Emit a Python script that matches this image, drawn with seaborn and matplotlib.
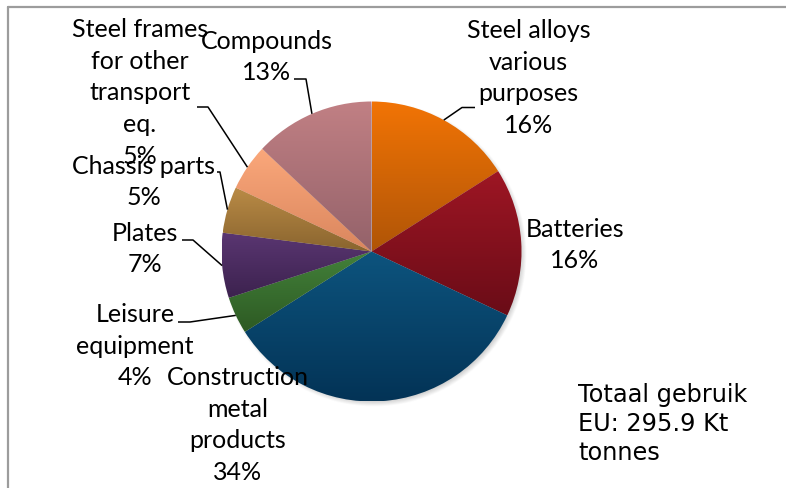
import numpy as np
import matplotlib
matplotlib.use("Agg")
import matplotlib.pyplot as plt
from matplotlib.colors import to_rgb
from matplotlib.lines import Line2D
import seaborn as sns

# Uses of steel in the EU, share of total consumption (%)
categories = [
    "Steel alloys\nvarious\npurposes",
    "Batteries",
    "Construction\nmetal\nproducts",
    "Leisure\nequipment",
    "Plates",
    "Chassis parts",
    "Steel frames\nfor other\ntransport\neq.",
    "Compounds",
]
shares = [16, 16, 34, 4, 7, 5, 5, 13]

# light (top) and dark (bottom) shade of each slice's gradient
top_colors = ["#F27405", "#9E1624", "#0D547E", "#43813A", "#5A3672",
              "#BA8B46", "#FBA87B", "#C18084"]
bottom_colors = ["#B05507", "#6A0C17", "#033356", "#2D5A23", "#3C224E",
                 "#8A652F", "#DA865E", "#94626A"]

total_note = "Totaal gebruik\nEU: 295.9 Kt\ntonnes"

W, H = 786, 488

sns.set_theme(style="white")
plt.rcParams["font.family"] = ["Lato", "DejaVu Sans"]

fig = plt.figure(figsize=(W / 100, H / 100), dpi=100)
fig.patch.set_facecolor("white")
ax = fig.add_axes([0, 0, 1, 1])


def Y(y):
    """Convert a top-down pixel row into the axes' y coordinate."""
    return H - y


cx, cy, R = 371.5, Y(251.5), 150

# soft drop shadow behind the pie
gx = np.linspace(cx - R - 20, cx + R + 20, 400)
gy = np.linspace(cy - R - 20, cy + R + 20, 400)
XX, YY = np.meshgrid(gx, gy)
d = np.hypot(XX - (cx + 2.0), YY - (cy - 3.0))
alpha = 0.35 * np.clip((R + 3 - d) / 7.0, 0, 1)
shadow = np.zeros((400, 400, 4))
shadow[..., :3] = 0.35
shadow[..., 3] = alpha
ax.imshow(shadow, extent=[gx[0], gx[-1], gy[0], gy[-1]], origin="lower",
          aspect="auto", zorder=0.5, interpolation="bilinear")

wedges, _ = ax.pie(shares, startangle=90, counterclock=False,
                   center=(cx, cy), radius=R,
                   wedgeprops=dict(linewidth=0))

# vertical gradient fill for every slice, clipped to its wedge
for w, c_top, c_bot in zip(wedges, top_colors, bottom_colors):
    th = np.radians(np.linspace(w.theta1, w.theta2, 200))
    xs = np.concatenate([[cx], cx + R * np.cos(th)])
    ys = np.concatenate([[cy], cy + R * np.sin(th)])
    t = np.linspace(0, 1, 256)[:, None, None]
    grad = (1 - t) * np.array(to_rgb(c_top)) + t * np.array(to_rgb(c_bot))
    grad = np.repeat(grad, 2, axis=1)
    im = ax.imshow(grad, extent=[xs.min(), xs.max(), ys.min(), ys.max()],
                   origin="upper", aspect="auto", zorder=2,
                   interpolation="bilinear")
    im.set_clip_path(w)
    w.set_facecolor("none")
    w.set_zorder(1)

# label placement (block centres) and leader-line bends, in pixel rows
label_pos = [(528.5, 78), (575, 245), (237.5, 425), (135, 346),
             (145, 249), (144, 182), (140, 93), (266.5, 57)]
leader_bends = [
    [(462, 107.5), (475, 107.5)],
    None,
    None,
    [(190, 322), (178, 322)],
    [(193, 240), (182, 240)],
    [(220, 172), (217, 172)],
    [(208, 107), (197, 107)],
    [(306, 79), (294, 79)],
]

for w, name, share, (lx, ly), bends in zip(wedges, categories, shares,
                                           label_pos, leader_bends):
    ax.text(lx, Y(ly), f"{name}\n{share}%", ha="center", va="center",
            multialignment="center", fontsize=18, color="black",
            linespacing=1.45, zorder=4)
    if bends:
        mid = np.radians((w.theta1 + w.theta2) / 2)
        px, py = cx + R * np.cos(mid), cy + R * np.sin(mid)
        xs = [px] + [b[0] for b in bends]
        ys = [py] + [Y(b[1]) for b in bends]
        ax.plot(xs, ys, color="black", lw=1.1, zorder=3,
                solid_capstyle="butt")

ax.text(578, Y(424), total_note, ha="left", va="center",
        fontsize=17.3, color="black", linespacing=1.24,
        family=["DejaVu Sans"], zorder=4)

ax.set_xlim(0, W)
ax.set_ylim(0, H)
ax.set_aspect("auto")
ax.set_axis_off()

# chart frame (top and left edges)
fig.add_artist(Line2D([8.3 / W, 1], [1 - 7 / H, 1 - 7 / H],
                      transform=fig.transFigure, color="#9c9c9c", lw=1.6))
fig.add_artist(Line2D([8.3 / W, 8.3 / W], [0, 1 - 7 / H],
                      transform=fig.transFigure, color="#9c9c9c", lw=1.6))

fig.savefig("out.png", dpi=100, facecolor="white")
